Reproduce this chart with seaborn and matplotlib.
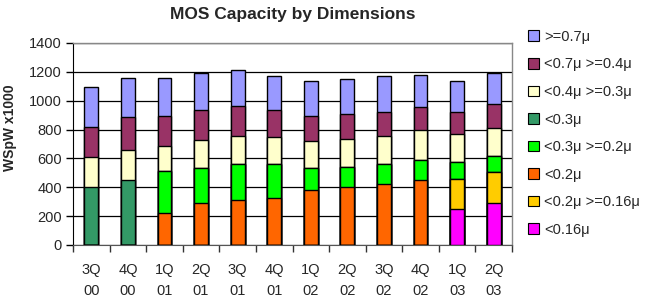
import numpy as np
import pandas as pd
import matplotlib
matplotlib.use('Agg')
import matplotlib.pyplot as plt
import seaborn as sns
from matplotlib.patches import Patch

quarters = ['3Q\n00', '4Q\n00', '1Q\n01', '2Q\n01', '3Q\n01', '4Q\n01',
            '1Q\n02', '2Q\n02', '3Q\n02', '4Q\n02', '1Q\n03', '2Q\n03']

# layers, bottom to top
lt016 = [0, 0, 0, 0, 0, 0, 0, 0, 0, 0, 248, 292]
lt02_ge016 = [0, 0, 0, 0, 0, 0, 0, 0, 0, 0, 211, 216]
lt02 = [0, 0, 222, 294, 315, 324, 380, 399, 422, 452, 0, 0]
lt03_ge02 = [0, 0, 288, 241, 248, 234, 153, 141, 136, 139, 113, 111]
lt03 = [400, 452, 0, 0, 0, 0, 0, 0, 0, 0, 0, 0]
lt04_ge03 = [212, 208, 178, 190, 193, 188, 190, 192, 198, 204, 195, 194]
lt07_ge04 = [208, 225, 206, 214, 210, 193, 174, 174, 169, 164, 153, 165]
ge07 = [276, 269, 265, 254, 244, 229, 243, 243, 243, 218, 220, 215]

labels = ['<0.16μ', '<0.2μ >=0.16μ', '<0.2μ', '<0.3μ >=0.2μ', '<0.3μ',
          '<0.4μ >=0.3μ', '<0.7μ >=0.4μ', '>=0.7μ']
colors = ['#FF00FF', '#FFCC00', '#FF6600', '#00FF00', '#339966',
          '#FFFFCC', '#993366', '#9999FF']

df = pd.DataFrame({'quarter': quarters})
layers = [lt016, lt02_ge016, lt02, lt03_ge02, lt03, lt04_ge03, lt07_ge04, ge07]
for lab, vals in zip(labels, layers):
    df[lab] = vals
cum = df[labels].cumsum(axis=1)

sns.set_style('white')
plt.rcParams['font.family'] = ['Liberation Sans', 'DejaVu Sans']

fig = plt.figure(figsize=(6.47, 3.00), dpi=100)
ax = fig.add_axes([73 / 647, 1 - 245 / 300, (512 - 73) / 647, (245 - 43) / 300])

# draw cumulative totals from the top layer down so they look stacked
for lab, col in zip(labels[::-1], colors[::-1]):
    sns.barplot(x='quarter', y=cum[lab], data=df.assign(**{lab: cum[lab]}),
                color=col, width=0.38, edgecolor='black', linewidth=1,
                saturation=1, ax=ax, zorder=3)

ax.set_ylim(0, 1400)
ax.set_yticks(range(0, 1401, 200))
ax.yaxis.grid(True, color='black', linewidth=0.9, zorder=0)
ax.set_axisbelow(True)
ax.set_xlim(-0.5, len(quarters) - 0.5)
ax.set_xlabel('')
ax.set_ylabel('WSpW x1000', fontsize=10, fontweight='bold')
ax.yaxis.set_label_coords((17 - 73) / 439, (245 - 128) / 202)
ax.set_title('MOS Capacity by Dimensions', fontsize=12.5, fontweight='bold', pad=17)

ax.tick_params(axis='y', length=5, width=1, color='black', labelsize=10.5, pad=3, left=True)
ax.tick_params(axis='x', which='major', length=0, labelsize=10.5, pad=13)
ax.set_xticks(np.arange(-0.5, len(quarters)), minor=True)
ax.tick_params(axis='x', which='minor', length=5, width=1, color='#333333', bottom=True)
for t in ax.get_xticklabels():
    t.set_linespacing(1.6)

for side in ['top', 'right']:
    ax.spines[side].set_color('#888888')
    ax.spines[side].set_linewidth(1)
ax.spines['left'].set_color('black')
ax.spines['bottom'].set_color('#555555')

handles = [Patch(facecolor=c, edgecolor='black', linewidth=0.8) for c in colors[::-1]]
fig.legend(handles, labels[::-1], loc='upper left', bbox_to_anchor=(522 / 647, 1 - 24 / 300),
           frameon=False, fontsize=10.5, handlelength=0.75, handleheight=0.75,
           handletextpad=0.35, labelspacing=0.93, borderaxespad=0)

fig.savefig('out.png', dpi=100)
